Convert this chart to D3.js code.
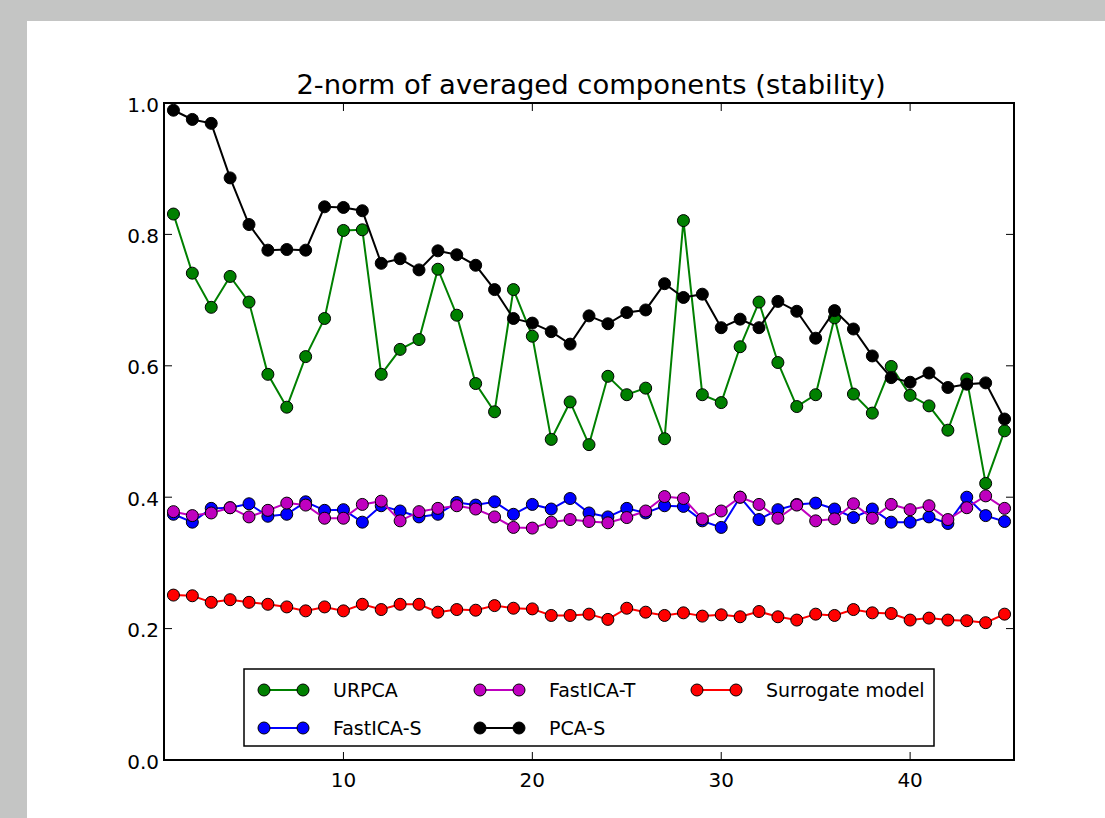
<!DOCTYPE html>
<html>
<head>
<meta charset="utf-8">
<script src="https://cdn.jsdelivr.net/npm/d3@7"></script>
<style>
  body { margin: 0; background: #c4c5c4; }
  svg { display: block; }
  text { font-family: "DejaVu Sans", sans-serif; fill: #000; }
</style>
</head>
<body>
<svg id="canvas" width="1105" height="818"></svg>
<script>
// values, components 1..45
const components = d3.range(1, 46);

const urpca = [0.831, 0.741, 0.689, 0.736, 0.697, 0.587, 0.537, 0.614, 0.672, 0.806,
  0.807, 0.587, 0.625, 0.640, 0.747, 0.677, 0.573, 0.530, 0.716, 0.645,
  0.488, 0.545, 0.480, 0.584, 0.556, 0.566, 0.489, 0.821, 0.556, 0.544,
  0.629, 0.697, 0.605, 0.538, 0.556, 0.673, 0.557, 0.528, 0.599, 0.555,
  0.539, 0.502, 0.580, 0.421, 0.501];

const fasticaS = [0.374, 0.362, 0.383, 0.384, 0.390, 0.371, 0.374, 0.393, 0.380, 0.381,
  0.362, 0.387, 0.379, 0.370, 0.374, 0.392, 0.388, 0.393, 0.374, 0.389,
  0.382, 0.398, 0.376, 0.370, 0.383, 0.376, 0.387, 0.386, 0.364, 0.354,
  0.400, 0.366, 0.381, 0.389, 0.391, 0.382, 0.369, 0.382, 0.362, 0.362,
  0.370, 0.360, 0.400, 0.372, 0.363];

const fasticaT = [0.378, 0.372, 0.376, 0.384, 0.370, 0.380, 0.391, 0.388, 0.368, 0.368,
  0.389, 0.394, 0.364, 0.378, 0.383, 0.387, 0.382, 0.370, 0.354, 0.353,
  0.362, 0.366, 0.363, 0.361, 0.369, 0.379, 0.401, 0.398, 0.367, 0.379,
  0.400, 0.389, 0.368, 0.388, 0.364, 0.367, 0.390, 0.368, 0.389, 0.381,
  0.387, 0.366, 0.384, 0.402, 0.383];

const pcaS = [0.989, 0.975, 0.969, 0.886, 0.815, 0.776, 0.777, 0.776, 0.842, 0.841,
  0.836, 0.756, 0.763, 0.746, 0.775, 0.769, 0.753, 0.716, 0.672, 0.665,
  0.652, 0.633, 0.676, 0.664, 0.681, 0.685, 0.725, 0.704, 0.709, 0.658,
  0.671, 0.658, 0.698, 0.683, 0.642, 0.684, 0.656, 0.615, 0.582, 0.575,
  0.589, 0.567, 0.572, 0.574, 0.519];

const surrogate = [0.251, 0.250, 0.240, 0.244, 0.240, 0.237, 0.233, 0.227, 0.233, 0.227,
  0.237, 0.229, 0.237, 0.237, 0.225, 0.229, 0.228, 0.235, 0.231, 0.230,
  0.220, 0.220, 0.222, 0.214, 0.231, 0.225, 0.220, 0.224, 0.219, 0.221,
  0.218, 0.226, 0.218, 0.213, 0.222, 0.220, 0.229, 0.224, 0.223, 0.213,
  0.216, 0.213, 0.212, 0.209, 0.222];

const seriesNames = ["URPCA", "FastICA-S", "FastICA-T", "PCA-S", "Surrogate model"];
const seriesColors = ["#008000", "#0000ff", "#bf00bf", "#000000", "#ff0000"];
const seriesValues = [urpca, fasticaS, fasticaT, pcaS, surrogate];

const xTicks = [10, 20, 30, 40];
const yTicks = [0.0, 0.2, 0.4, 0.6, 0.8, 1.0];

const svg = d3.select("#canvas");

// white figure area
svg.append("rect")
  .attr("x", 27).attr("y", 21)
  .attr("width", 1105 - 27).attr("height", 818 - 21)
  .attr("fill", "#fff");

const plotLeft = 164, plotRight = 1014, plotTop = 103, plotBottom = 760;

const x = d3.scaleLinear().domain([0.5, 45.5]).range([plotLeft, plotRight]);
const y = d3.scaleLinear().domain([0, 1]).range([plotBottom, plotTop]);

// ticks (inside, on all four sides)
const tickLen = 8;
const g = svg.append("g");
xTicks.forEach((t) => {
  g.append("line").attr("x1", x(t)).attr("x2", x(t))
    .attr("y1", plotBottom).attr("y2", plotBottom - tickLen)
    .attr("stroke", "#000").attr("stroke-width", 1);
  g.append("line").attr("x1", x(t)).attr("x2", x(t))
    .attr("y1", plotTop).attr("y2", plotTop + tickLen)
    .attr("stroke", "#000").attr("stroke-width", 1);
  g.append("text").attr("x", x(t)).attr("y", plotBottom + 27)
    .attr("text-anchor", "middle").attr("font-size", 20)
    .text(t);
});
yTicks.forEach((t) => {
  g.append("line").attr("x1", plotLeft).attr("x2", plotLeft + tickLen)
    .attr("y1", y(t)).attr("y2", y(t))
    .attr("stroke", "#000").attr("stroke-width", 1);
  g.append("line").attr("x1", plotRight).attr("x2", plotRight - tickLen)
    .attr("y1", y(t)).attr("y2", y(t))
    .attr("stroke", "#000").attr("stroke-width", 1);
  g.append("text").attr("x", plotLeft - 5).attr("y", y(t) + 8.5)
    .attr("text-anchor", "end").attr("font-size", 20)
    .text(d3.format(".1f")(t));
});

// series
const line = d3.line()
  .x((d, i) => x(components[i]))
  .y((d) => y(d));

seriesValues.forEach((vals, k) => {
  const sg = svg.append("g");
  sg.append("path")
    .datum(vals)
    .attr("d", line)
    .attr("fill", "none")
    .attr("stroke", seriesColors[k])
    .attr("stroke-width", 2);
  sg.selectAll("circle")
    .data(vals)
    .enter()
    .append("circle")
    .attr("cx", (d, i) => x(components[i]))
    .attr("cy", (d) => y(d))
    .attr("r", 6)
    .attr("fill", seriesColors[k])
    .attr("stroke", "#000")
    .attr("stroke-width", 1);
});

// frame
svg.append("rect")
  .attr("x", plotLeft).attr("y", plotTop)
  .attr("width", plotRight - plotLeft).attr("height", plotBottom - plotTop)
  .attr("fill", "none").attr("stroke", "#000").attr("stroke-width", 2);

// title
svg.append("text")
  .attr("x", (plotLeft + plotRight) / 2 + 2).attr("y", 93.5)
  .attr("text-anchor", "middle").attr("font-size", 27.4)
  .text("2-norm of averaged components (stability)");

// legend, filled column by column like matplotlib ncol=3
const legend = svg.append("g");
legend.append("rect")
  .attr("x", 244).attr("y", 669)
  .attr("width", 690).attr("height", 77)
  .attr("fill", "#fff").attr("stroke", "#000").attr("stroke-width", 1.5);

const colX = [264, 480, 697];
const rowY = [690, 728];
seriesNames.forEach((name, k) => {
  const cx = colX[Math.floor(k / 2)];
  const cy = rowY[k % 2];
  legend.append("line")
    .attr("x1", cx).attr("x2", cx + 39)
    .attr("y1", cy).attr("y2", cy)
    .attr("stroke", seriesColors[k]).attr("stroke-width", 2);
  [cx, cx + 39].forEach((px) => {
    legend.append("circle")
      .attr("cx", px).attr("cy", cy).attr("r", 6)
      .attr("fill", seriesColors[k])
      .attr("stroke", "#000").attr("stroke-width", 1);
  });
  legend.append("text")
    .attr("x", cx + 69).attr("y", cy + 6.5)
    .attr("font-size", 19)
    .text(name);
});
</script>
</body>
</html>
